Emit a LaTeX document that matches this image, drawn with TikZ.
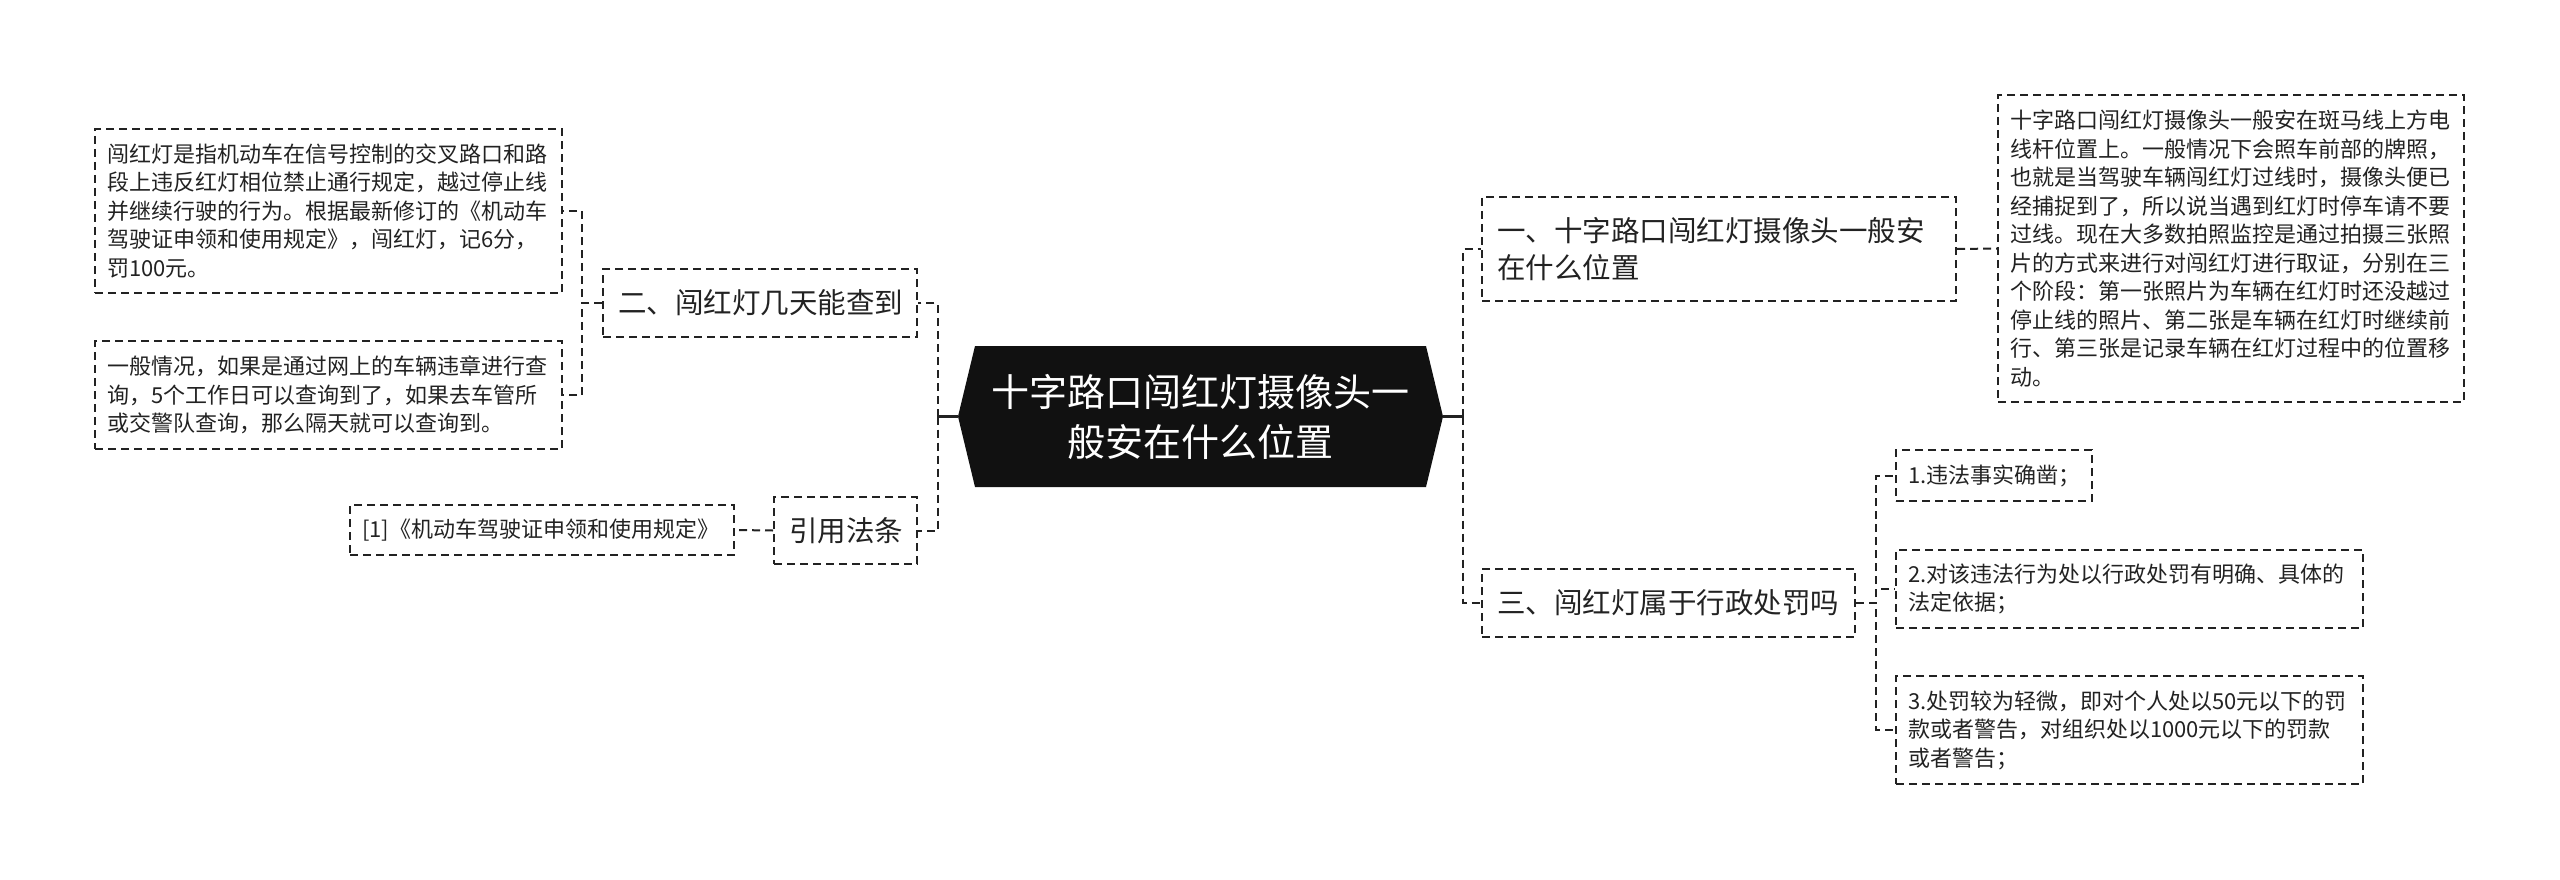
\documentclass[tikz,border=0pt]{standalone}
\usepackage{fontspec}
\newfontfamily\cjk{Noto Sans CJK SC}
\usetikzlibrary{positioning}
\definecolor{rootfill}{HTML}{111111}
\definecolor{linegray}{HTML}{222222}
\tikzset{
    leaf/.style={draw=linegray, line width=2pt, dash pattern=on 8pt off 5pt,
        align=left, inner xsep=12pt, inner ysep=0pt, text=linegray,
        font=\cjk\fontsize{22}{28.5}\selectfont},
    branch/.style={leaf, inner xsep=15pt, font=\cjk\fontsize{28.5}{37}\selectfont},
    rootbox/.style={inner sep=0pt, text=white, align=center,
        font=\cjk\fontsize{38}{50}\selectfont,
        path picture={\fill[rootfill]
            ([xshift=17pt]path picture bounding box.north west) --
            ([xshift=-17pt]path picture bounding box.north east) --
            (path picture bounding box.east) --
            ([xshift=-17pt]path picture bounding box.south east) --
            ([xshift=17pt]path picture bounding box.south west) --
            (path picture bounding box.west) -- cycle;}},
    dashlink/.style={draw=linegray, line width=2pt, dash pattern=on 8pt off 5pt},
    stem/.style={draw=linegray, line width=3pt}
}

\begin{document}
\begin{tikzpicture}[x=1pt,y=-1pt]

    \useasboundingbox (0,0) rectangle (2560,880);

    % root
    \node[rootbox, minimum width=485pt, minimum height=141pt, text width=430pt]
        (root) at (1200.5,416.5) {十字路口闯红灯摄像头一\\般安在什么位置};

    % left side
    \node[branch, minimum width=314pt, minimum height=68pt, text width=284pt]
        (days) at (760,303) {二、闯红灯几天能查到};
    \node[branch, minimum width=143pt, minimum height=67pt, text width=113pt]
        (law) at (845.5,530.5) {引用法条};

    \node[leaf, minimum width=467pt, minimum height=164pt, text width=443pt]
        (define) at (328.5,211) {闯红灯是指机动车在信号控制的交叉路口和路\\段上违反红灯相位禁止通行规定，越过停止线\\并继续行驶的行为。根据最新修订的《机动车\\驾驶证申领和使用规定》，闯红灯，记6分，\\罚100元。};
    \node[leaf, minimum width=467pt, minimum height=108pt, text width=443pt]
        (query) at (328.5,395) {一般情况，如果是通过网上的车辆违章进行查\\询，5个工作日可以查询到了，如果去车管所\\或交警队查询，那么隔天就可以查询到。};
    \node[leaf, minimum width=384pt, minimum height=50pt, text width=360pt]
        (cite) at (542,530) {[1]《机动车驾驶证申领和使用规定》};

    % right side
    \node[branch, minimum width=474pt, minimum height=104pt, text width=444pt]
        (where) at (1719,249) {一、十字路口闯红灯摄像头一般安\\在什么位置};
    \node[branch, minimum width=373pt, minimum height=68pt, text width=343pt]
        (penalty) at (1668.5,603) {三、闯红灯属于行政处罚吗};

    \node[leaf, minimum width=466pt, minimum height=307pt, text width=442pt]
        (camera) at (2231,248.5) {十字路口闯红灯摄像头一般安在斑马线上方电\\线杆位置上。一般情况下会照车前部的牌照，\\也就是当驾驶车辆闯红灯过线时，摄像头便已\\经捕捉到了，所以说当遇到红灯时停车请不要\\过线。现在大多数拍照监控是通过拍摄三张照\\片的方式来进行对闯红灯进行取证，分别在三\\个阶段：第一张照片为车辆在红灯时还没越过\\停止线的照片、第二张是车辆在红灯时继续前\\行、第三张是记录车辆在红灯过程中的位置移\\动。};
    \node[leaf, minimum width=196pt, minimum height=51pt, text width=172pt]
        (rule1) at (1994,475.5) {1.违法事实确凿；};
    \node[leaf, minimum width=467pt, minimum height=78pt, text width=443pt]
        (rule2) at (2129.5,589) {2.对该违法行为处以行政处罚有明确、具体的\\法定依据；};
    \node[leaf, minimum width=467pt, minimum height=108pt, text width=443pt]
        (rule3) at (2129.5,730) {3.处罚较为轻微，即对个人处以50元以下的罚\\款或者警告，对组织处以1000元以下的罚款\\或者警告；};

    % connect root
    \draw[stem] (root.west) -- ++(-20,0) coordinate (lhub);
    \draw[stem] (root.east) -- ++(20,0) coordinate (rhub);
    \draw[dashlink] (lhub) |- (days.east);
    \draw[dashlink] (lhub) |- (law.east);
    \draw[dashlink] (rhub) |- (where.west);
    \draw[dashlink] (rhub) |- (penalty.west);

    % connect leaves
    \draw[dashlink] (days.west) -- ++(-20,0) |- (define.east);
    \draw[dashlink] (days.west) -- ++(-20,0) |- (query.east);
    \draw[dashlink] (law.west) -- (cite.east);
    \draw[dashlink] (where.east) -- (camera.west);
    \draw[dashlink] (penalty.east) -- ++(20,0) |- (rule1.west);
    \draw[dashlink] (penalty.east) -- ++(20,0) |- (rule2.west);
    \draw[dashlink] (penalty.east) -- ++(20,0) |- (rule3.west);
\end{tikzpicture}
\end{document}
